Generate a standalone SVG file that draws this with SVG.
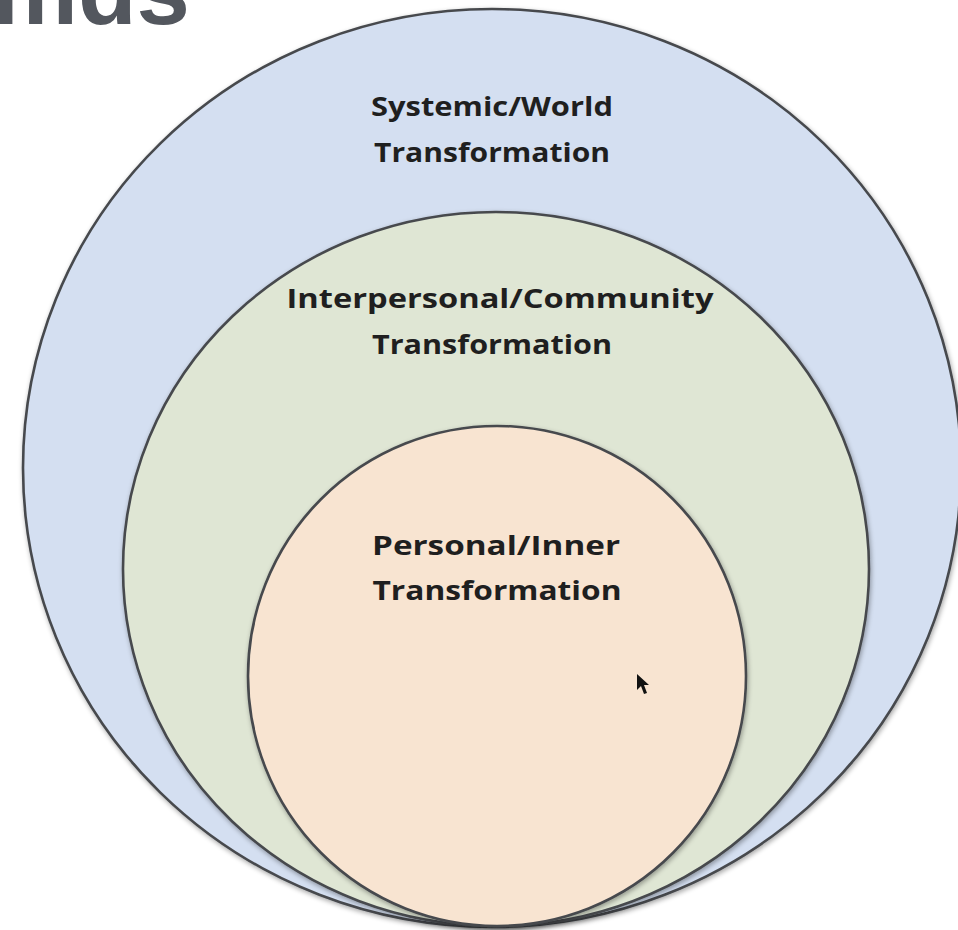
<svg xmlns="http://www.w3.org/2000/svg" width="958" height="930" viewBox="0 0 958 930">
  <defs>
    <filter id="shadow" x="-5%" y="-5%" width="110%" height="110%">
      <feGaussianBlur in="SourceAlpha" stdDeviation="2.5"/>
      <feOffset dx="1" dy="2" result="b"/>
      <feComponentTransfer><feFuncA type="linear" slope="0.35"/></feComponentTransfer>
      <feMerge><feMergeNode/><feMergeNode in="SourceGraphic"/></feMerge>
    </filter>
  </defs>
  <style>
    .ring { stroke: #474a4e; stroke-width: 2.6; }
    .lbl { font-family: "Open Sans", "Noto Sans", "Liberation Sans", sans-serif; font-weight: 700; font-size: 27px; fill: #1f1f1f; text-anchor: middle; }
    .title { font-family: "Liberation Sans", Arial, sans-serif; font-weight: 700; font-size: 96px; fill: #53575e; text-anchor: end; }
  </style>
  <rect width="958" height="930" fill="#ffffff"/>
  <text class="title" x="190" y="24">mds</text>
  <g id="systemic">
    <ellipse class="ring" cx="492" cy="468" rx="469" ry="459" fill="#d4dff1" filter="url(#shadow)"/>
    <text class="lbl" x="492" y="116" textLength="242" lengthAdjust="spacingAndGlyphs">Systemic/World</text>
    <text class="lbl" x="492" y="162" textLength="236" lengthAdjust="spacingAndGlyphs">Transformation</text>
  </g>
  <g id="interpersonal">
    <ellipse class="ring" cx="496" cy="569" rx="373" ry="357" fill="#dfe6d4" filter="url(#shadow)"/>
    <text class="lbl" x="500" y="308" textLength="427" lengthAdjust="spacingAndGlyphs">Interpersonal/Community</text>
    <text class="lbl" x="492" y="354" textLength="240" lengthAdjust="spacingAndGlyphs">Transformation</text>
  </g>
  <g id="personal">
    <ellipse class="ring" cx="497" cy="676" rx="249" ry="250" fill="#f8e4d1" filter="url(#shadow)"/>
    <text class="lbl" x="496" y="555" textLength="248" lengthAdjust="spacingAndGlyphs">Personal/Inner</text>
    <text class="lbl" x="497" y="600" textLength="249" lengthAdjust="spacingAndGlyphs">Transformation</text>
  </g>
  <g id="cursor">
    <polygon points="637,674 637,690 641,686 644,694 647,693 644,685 649,685" fill="#111111"/>
  </g>
  <g id="connectors"></g>
</svg>
